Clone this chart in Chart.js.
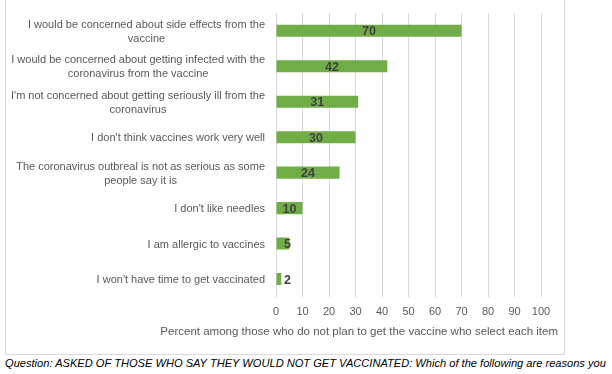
<!DOCTYPE html>
<html>
<head>
<meta charset="utf-8">
<script src="https://cdn.jsdelivr.net/npm/chart.js@4"></script>
<style>
  body { margin: 0; background: #fff; width: 612px; height: 374px; overflow: hidden; position: relative; }
  #box { position: absolute; left: 5px; top: -1px; width: 558px; height: 354px; border: 1px solid #d9d9d9; }
  #caption { position: absolute; left: 5px; top: 357px; font: italic 11.1px "Liberation Sans", Arial, sans-serif; color: #000; white-space: nowrap; }
</style>
</head>
<body>
<div id="box"><canvas id="c" width="558" height="354"></canvas></div>
<div id="caption">Question: ASKED OF THOSE WHO SAY THEY WOULD NOT GET VACCINATED: Which of the following are reasons you</div>
<script>
// 항목 라벨 (줄바꿈은 배열로)
const reasons = [
    ['I would be concerned about side effects from the', 'vaccine'],
    ['I would be concerned about getting infected with the', 'coronavirus from the vaccine'],
    ["I'm not concerned about getting seriously ill from the", 'coronavirus'],
    ["I don't think vaccines work very well"],
    ['The coronavirus outbreal is not as serious as some', 'people say it is'],
    ["I don't like needles"],
    ['I am allergic to vaccines'],
    ["I won't have time to get vaccinated"]
];
const percents = [70, 42, 31, 30, 24, 10, 5, 2];
const xTicks = [0, 10, 20, 30, 40, 50, 60, 70, 80, 90, 100];
const axisTitle = 'Percent among those who do not plan to get the vaccine who select each item';

const FONT = '"Liberation Sans", Arial, sans-serif';
const GREY = '#595959';

// 카테고리 라벨: 블록은 오른쪽 정렬, 각 줄은 가운데 정렬
const categoryLabels = {
    id: 'categoryLabels',
    afterDraw(chart) {
        const ctx = chart.ctx;
        const y = chart.scales.y;
        const right = chart.chartArea.left - 11;
        const lh = 14;
        ctx.save();
        ctx.font = '11px ' + FONT;
        ctx.fillStyle = GREY;
        ctx.textAlign = 'center';
        ctx.textBaseline = 'middle';
        reasons.forEach((lines, i) => {
            const cy = y.getPixelForValue(i) + 1;
            const maxW = Math.max(...lines.map(l => ctx.measureText(l).width));
            const cx = right - maxW / 2;
            lines.forEach((l, k) => {
                ctx.fillText(l, cx, cy - (lines.length - 1) * lh / 2 + k * lh);
            });
        });

        // x축 제목 (차트 오른쪽 끝에 맞춤)
        ctx.font = '11.5px ' + FONT;
        ctx.textAlign = 'right';
        ctx.fillText(axisTitle, chart.width - 6, chart.chartArea.bottom + 35);
        ctx.restore();
    }
};

// 막대 값 라벨
const valueLabels = {
    id: 'valueLabels',
    afterDatasetsDraw(chart) {
        const ctx = chart.ctx;
        const meta = chart.getDatasetMeta(0);
        ctx.save();
        ctx.font = 'bold 12.5px ' + FONT;
        ctx.fillStyle = '#404040';
        ctx.textAlign = 'center';
        ctx.textBaseline = 'middle';
        meta.data.forEach((bar, i) => {
            const mid = (bar.x + bar.base) / 2;
            const x = Math.max(mid, bar.base + 11);
            ctx.fillText(String(percents[i]), x, bar.y + 1);
        });
        ctx.restore();
    }
};

new Chart(document.getElementById('c'), {
    type: 'bar',
    data: {
        labels: reasons.map(r => r.join(' ')),
        datasets: [{
            data: percents,
            backgroundColor: '#70ad47',
            categoryPercentage: 1,
            barPercentage: 0.34
        }]
    },
    options: {
        indexAxis: 'y',
        responsive: false,
        animation: false,
        events: [],
        layout: { padding: { top: 13, right: 23, bottom: 26, left: 0 } },
        plugins: { legend: { display: false }, tooltip: { enabled: false } },
        scales: {
            x: {
                min: 0,
                max: 100,
                afterBuildTicks: s => { s.ticks = xTicks.map(v => ({ value: v })); },
                grid: { color: '#d9d9d9', drawTicks: false },
                border: { display: false },
                ticks: { color: GREY, font: { family: FONT, size: 11 }, padding: 9 }
            },
            y: {
                grid: { display: false },
                border: { display: false },
                ticks: { display: false },
                afterFit: s => { s.width = 270; }
            }
        }
    },
    plugins: [categoryLabels, valueLabels]
});
</script>
</body>
</html>
